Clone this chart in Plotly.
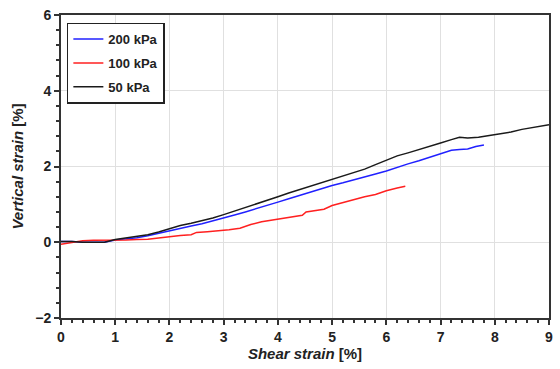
import plotly.graph_objects as go

# 50 kPa (black)
x_50 = [0, 0.2, 0.4, 0.6, 0.8, 1.0, 1.2, 1.4, 1.6, 1.8, 2.0, 2.2, 2.4, 2.6, 2.8, 3.0, 3.2, 3.4, 3.6, 3.8,
        4.0, 4.2, 4.4, 4.6, 4.8, 5.0, 5.2, 5.4, 5.6, 5.8, 6.0, 6.2, 6.4, 6.6, 6.8, 7.0, 7.2, 7.35, 7.5,
        7.7, 7.9, 8.1, 8.3, 8.5, 8.7, 8.9, 9.0]
y_50 = [0.02, 0.02, 0.0, 0.0, 0.0, 0.07, 0.11, 0.15, 0.2, 0.27, 0.36, 0.44, 0.5, 0.56, 0.64, 0.73, 0.82,
        0.92, 1.01, 1.1, 1.2, 1.3, 1.39, 1.48, 1.57, 1.66, 1.74, 1.83, 1.93, 2.05, 2.17, 2.28, 2.36, 2.44,
        2.54, 2.62, 2.71, 2.77, 2.75, 2.77, 2.82, 2.86, 2.91, 2.98, 3.03, 3.08, 3.1]

# 200 kPa (blue)
x_200 = [0, 0.2, 0.4, 0.6, 0.8, 1.0, 1.2, 1.4, 1.6, 1.8, 2.0, 2.2, 2.4, 2.6, 2.8, 3.0, 3.2, 3.4, 3.6, 3.8,
         4.0, 4.2, 4.4, 4.6, 4.8, 5.0, 5.2, 5.4, 5.6, 5.8, 6.0, 6.2, 6.4, 6.6, 6.8, 7.0, 7.2, 7.35, 7.5,
         7.65, 7.8]
y_200 = [0.02, 0.02, 0.0, 0.0, 0.0, 0.06, 0.09, 0.12, 0.17, 0.24, 0.31, 0.37, 0.43, 0.49, 0.56, 0.64, 0.72,
         0.8, 0.88, 0.96, 1.06, 1.15, 1.24, 1.32, 1.4, 1.5, 1.57, 1.64, 1.72, 1.8, 1.88, 1.98, 2.07, 2.15,
         2.24, 2.33, 2.43, 2.45, 2.46, 2.53, 2.57]

# 100 kPa (red)
x_100 = [0, 0.2, 0.4, 0.6, 0.8, 1.0, 1.2, 1.4, 1.6, 1.8, 2.0, 2.2, 2.4, 2.5, 2.7, 2.9, 3.1, 3.3, 3.5, 3.7,
         3.9, 4.1, 4.3, 4.45, 4.52, 4.7, 4.85, 5.0, 5.2, 5.4, 5.6, 5.8, 6.0, 6.2, 6.35]
y_100 = [-0.05, 0.0, 0.04, 0.05, 0.05, 0.05, 0.06, 0.07, 0.08, 0.11, 0.15, 0.18, 0.2, 0.26, 0.28, 0.3, 0.33,
         0.37, 0.47, 0.54, 0.58, 0.62, 0.67, 0.71, 0.8, 0.84, 0.87, 0.97, 1.05, 1.12, 1.2, 1.26, 1.36, 1.43,
         1.48]

FONT = "Liberation Sans, Arial, sans-serif"

fig = go.Figure()
fig.add_trace(go.Scatter(x=x_200, y=y_200, mode="lines", name="200 kPa", legendgroup="a",
                         line=dict(color="#2020ff", width=1.5)))
fig.add_trace(go.Scatter(x=x_100, y=y_100, mode="lines", name="100 kPa", legendgroup="b",
                         line=dict(color="#ff2020", width=1.5)))
fig.add_trace(go.Scatter(x=x_50, y=y_50, mode="lines", name="50 kPa", legendgroup="c",
                         line=dict(color="#1a1a1a", width=1.5)))

axis_common = dict(
    showline=True, linecolor="#333333", linewidth=2, mirror=True,
    showgrid=True, gridcolor="#e0e0e0", gridwidth=1,
    zeroline=False, ticks="outside", ticklen=5, tickwidth=1.5, tickcolor="#333333",
    tickfont=dict(family=FONT, size=14, color="#222222", weight="bold"),
)

fig.update_layout(
    width=560, height=369,
    margin=dict(l=61, r=7, t=14, b=51),
    paper_bgcolor="white", plot_bgcolor="white",
    showlegend=True,
    legend=dict(x=0.012, y=0.975, xanchor="left", yanchor="top",
                bgcolor="white", bordercolor="#222222", borderwidth=1.5,
                font=dict(family=FONT, size=13, color="#222222", weight="bold"),
                tracegroupgap=4, itemwidth=30),
    xaxis=dict(range=[0, 9], dtick=1, tick0=0,
               minor=dict(dtick=0.2, ticks="outside", ticklen=3, tickcolor="#333333", showgrid=False),
               title=dict(text="<i>Shear strain</i> [%]", standoff=5,
                          font=dict(family=FONT, size=15, color="#222222", weight="bold")),
               **axis_common),
    yaxis=dict(range=[-2, 6], dtick=2, tick0=0,
               minor=dict(dtick=0.4, ticks="outside", ticklen=3, tickcolor="#333333", showgrid=False),
               title=dict(text="<i>Vertical strain</i> [%]", standoff=8,
                          font=dict(family=FONT, size=15, color="#222222", weight="bold")),
               **axis_common),
)

fig.write_html("out.html")
